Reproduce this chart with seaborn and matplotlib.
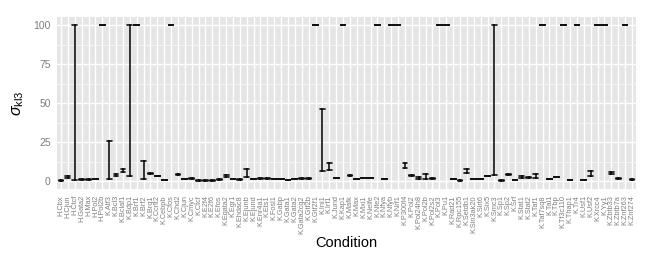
import numpy as np
import pandas as pd
import seaborn as sns
import matplotlib.pyplot as plt
from matplotlib.ticker import MultipleLocator, FixedLocator

conditions = [
    "H.Cbx", "H.Cjun", "H.Ctcf", "H.Gata2", "H.Max", "H.Pol2", "H.Pol2b",
    "K.Atf3", "K.Bcl3", "K.Bclaf1", "K.Bdp1", "K.Brf1", "K.Brf2", "K.Brg1",
    "K.Ccnt2", "K.Cebpb", "K.Cfos", "K.Chd2", "K.Cjun", "K.Cmyc", "K.Ctcf",
    "K.E2f4", "K.E2f6", "K.Efos", "K.Egata2", "K.Egr1", "K.Ehdac8", "K.Ejunb",
    "K.Ejund", "K.Enr4a1", "K.Ets1", "K.Fosl1", "K.Gabp", "K.Gata1", "K.Gata2",
    "K.Gata2cg2", "K.Gtf2b", "K.Gtf2f1", "K.Ini1", "K.Irf1", "K.Jund", "K.Kap1",
    "K.Mafk", "K.Max", "K.Mxi1", "K.Nelfe", "K.Nfe2", "K.Nfya", "K.Nfyb",
    "K.Nrf1", "K.P300f4", "K.Pol2", "K.Pol24h8", "K.Pol2b", "K.Pol2s2", "K.Pol3",
    "K.Pu1", "K.Rad21", "K.Rpc155", "K.Setdb1", "K.Sin3ak20", "K.Sirt6", "K.Six5",
    "K.Smc3", "K.Sp1", "K.Sp2", "K.Srf", "K.Stat1", "K.Stat2", "K.Taf1",
    "K.Taf7sq8", "K.Tal1", "K.Tbp", "K.Tf3c110", "K.Thap1", "K.Tr4", "K.Usf1",
    "K.Usf2", "K.Xrcc4", "K.Yy1", "K.Zbtb33", "K.Zbtb7a", "K.Znf263", "K.Znf274",
]

# lower / upper end of each interval
sigma_lo = [
    0.3, 2.0, 0.8, 0.8, 0.8, 1.3, 99.7, 1.3, 3.0, 5.6, 3.4, 99.7, 1.1, 4.6,
    3.0, 0.7, 99.7, 4.1, 1.2, 1.2, 0.3, 0.3, 0.3, 0.8, 2.6, 1.4, 0.8, 2.4,
    1.4, 1.0, 1.0, 1.4, 1.0, 0.5, 1.2, 1.4, 1.4, 99.7, 6.2, 7.0, 2.0, 99.7,
    3.4, 1.2, 2.0, 2.0, 99.7, 1.0, 99.7, 99.7, 8.3, 3.5, 1.4, 1.1, 1.6, 99.7,
    99.7, 1.0, 0.3, 4.9, 1.0, 1.2, 3.1, 3.9, 0.2, 3.9, 0.5, 2.2, 1.8, 1.7,
    99.7, 1.2, 2.5, 99.7, 0.5, 99.7, 0.5, 3.4, 99.7, 99.7, 4.3, 1.3, 99.7, 0.9,
]
sigma_hi = [
    0.8, 3.4, 100, 1.1, 1.1, 1.6, 100, 25.6, 4.3, 7.5, 100, 100, 13.0, 5.1,
    3.3, 0.9, 100, 4.5, 1.4, 2.2, 0.5, 0.5, 0.5, 1.0, 3.7, 1.6, 1.0, 7.5,
    1.6, 2.0, 2.0, 1.6, 1.2, 0.7, 1.4, 1.7, 1.7, 100, 46.2, 11.5, 2.2, 100,
    3.7, 1.4, 2.2, 2.2, 100, 1.6, 100, 100, 11.3, 3.8, 2.4, 4.3, 2.2, 100,
    100, 1.2, 0.5, 7.9, 1.2, 1.4, 3.4, 100, 0.4, 4.2, 0.7, 3.3, 2.3, 4.7,
    100, 1.4, 2.8, 100, 0.7, 100, 0.7, 6.6, 100, 100, 5.5, 1.8, 100, 1.1,
]

y_ticks = [0, 25, 50, 75, 100]

df = pd.DataFrame({"Condition": conditions * 2,
                   "sigma": sigma_lo + sigma_hi})

sns.set_theme(style="darkgrid", rc={"axes.facecolor": "#E5E5E5",
                                    "grid.color": "white"})
plt.rcParams['font.family'] = ['Liberation Sans', 'DejaVu Sans']
plt.rcParams['mathtext.fontset'] = 'custom'
plt.rcParams['mathtext.rm'] = 'Liberation Sans'
plt.rcParams['mathtext.it'] = 'Liberation Sans:italic'

fig = plt.figure(figsize=(6.53, 2.65), dpi=100)
ax = fig.add_axes([0.0871, 0.2875, 0.887, 0.6475])

sns.pointplot(data=df, x="Condition", y="sigma", order=conditions,
              estimator="mean", errorbar=("pi", 100), capsize=0.7,
              linestyle="none", marker="", markersize=0, color="#111111",
              err_kws={"linewidth": 1.2}, ax=ax)

ax.set_xlim(-0.6, len(conditions) - 0.4)
ax.set_ylim(-5, 105)
ax.yaxis.set_major_locator(FixedLocator(y_ticks))
ax.yaxis.set_minor_locator(MultipleLocator(12.5))
ax.set_axisbelow(True)
ax.grid(True, which="major", color="white", linewidth=1.0)
ax.grid(True, which="minor", axis="y", color="#F7F7F7", linewidth=0.6)
for s in ax.spines.values():
    s.set_visible(False)

ax.tick_params(axis="both", which="major", length=3, width=0.8,
               color="#7F7F7F", labelcolor="#7F7F7F")
ax.tick_params(axis="y", which="minor", length=0)
ax.tick_params(axis="x", labelsize=5.3, rotation=90, pad=1.5)
ax.tick_params(axis="y", labelsize=7.5, pad=1.5)

ax.set_xlabel("Condition", fontsize=10.5, color="black", labelpad=2)
ax.set_ylabel(r"$\sigma_{\mathrm{kl3}}$", fontsize=11.5, color="black", labelpad=5)

fig.savefig("out.png", dpi=100)
